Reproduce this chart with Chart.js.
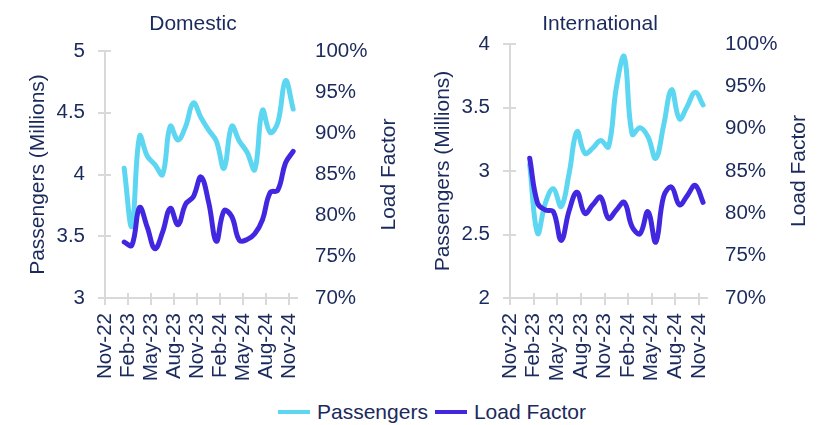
<!DOCTYPE html>
<html>
<head>
<meta charset="utf-8">
<script src="https://cdn.jsdelivr.net/npm/chart.js@4.4.1/dist/chart.umd.min.js"></script>
<style>
  body { margin: 0; background: #fff; }
  #wrap { position: relative; width: 831px; height: 425px; overflow: hidden; font-family: "Liberation Sans", Arial, sans-serif; }
  #domestic { position: absolute; left: 0; top: 0; }
  #international { position: absolute; left: 415px; top: 0; }
  #legend { position: absolute; left: 278px; top: 400px; display: flex; align-items: center; color: #1b2a5c; font-size: 21px; line-height: 24px; }
  .swatch { display: inline-block; width: 32px; height: 4px; margin-right: 7px; }
  .item { display: flex; align-items: center; margin-right: 7px; }
</style>
</head>
<body>
<div id="wrap">
  <canvas id="domestic" width="415" height="395"></canvas>
  <canvas id="international" width="416" height="395"></canvas>
  <div id="legend">
    <span class="item"><span class="swatch" style="background:#5dd6f2"></span>Passengers</span>
    <span class="item"><span class="swatch" style="background:#4127e0"></span>Load Factor</span>
  </div>
</div>
<script>
// months on the axis, Nov-22 .. Nov-24
const axisMonths = ["Nov-22", "Dec-22", "Jan-23", "Feb-23", "Mar-23", "Apr-23", "May-23", "Jun-23",
  "Jul-23", "Aug-23", "Sep-23", "Oct-23", "Nov-23", "Dec-23", "Jan-24", "Feb-24", "Mar-24",
  "Apr-24", "May-24", "Jun-24", "Jul-24", "Aug-24", "Sep-24", "Oct-24", "Nov-24"];

// monthly data points
const months = axisMonths.slice(2);

const domesticPassengers = [4.05, 3.58, 4.31, 4.15, 4.08, 4.00, 4.39, 4.28, 4.39, 4.58, 4.46, 4.36,
  4.27, 4.05, 4.39, 4.27, 4.18, 4.04, 4.52, 4.34, 4.42, 4.76, 4.53];
const domesticLoadFactor = [76.8, 76.4, 81.0, 78.6, 76.0, 78.0, 80.9, 78.9, 81.4, 82.3, 84.7, 81.6,
  76.9, 80.6, 79.9, 77.0, 77.1, 77.8, 79.5, 82.8, 83.1, 86.4, 87.8];

const intlPassengers = [3.05, 2.51, 2.75, 2.86, 2.72, 2.98, 3.31, 3.14, 3.18, 3.24, 3.19, 3.66,
  3.90, 3.29, 3.34, 3.27, 3.10, 3.36, 3.64, 3.41, 3.51, 3.62, 3.52];
const intlLoadFactor = [86.5, 81.2, 80.4, 80.2, 76.8, 80.3, 82.5, 80.0, 81.0, 81.9, 79.4, 80.4,
  81.3, 78.4, 77.6, 80.2, 76.6, 82.0, 83.1, 81.0, 82.1, 83.3, 81.3];

const TEXT = "#1b2a5c";
const CYAN = "#5dd6f2";
const PURPLE = "#4127e0";
const GREY = "#d9d9d9";
const FONT = '"Liberation Sans", Arial, sans-serif';

// crossing tick marks, panel title and the right-hand axis title
const panelDecor = {
  id: "panelDecor",
  beforeDatasetsDraw(chart) {
    const { ctx, chartArea: a, scales } = chart;
    ctx.save();
    ctx.strokeStyle = GREY;
    ctx.lineWidth = 2;
    ctx.beginPath();
    scales.x.ticks.forEach((t) => {
      const px = Math.round(scales.x.getPixelForValue(t.value));
      ctx.moveTo(px, a.bottom - 5);
      ctx.lineTo(px, a.bottom + 7);
    });
    scales.y.ticks.forEach((t) => {
      const py = Math.round(scales.y.getPixelForValue(t.value));
      ctx.moveTo(a.left - 7, py);
      ctx.lineTo(a.left + 6, py);
    });
    ctx.moveTo(a.left - 6, Math.round(a.bottom));
    ctx.lineTo(a.left, Math.round(a.bottom));
    ctx.stroke();
    ctx.restore();
  },
  afterDraw(chart, args, opts) {
    const { ctx, chartArea: a } = chart;
    ctx.save();
    ctx.fillStyle = TEXT;
    ctx.font = "21px " + FONT;
    ctx.textAlign = "center";
    ctx.textBaseline = "alphabetic";
    ctx.fillText(opts.title, opts.titleX, 29.5);
    ctx.translate(opts.rightTitleX, (a.top + a.bottom) / 2);
    ctx.rotate(-Math.PI / 2);
    ctx.fillText("Load Factor", 0, 0);
    ctx.restore();
  },
};

function makePanel(id, cfg) {
  const toPoints = (values) =>
    months.map((m, i) => ({ x: axisMonths.indexOf(m) + 0.5, y: values[i] }));

  return new Chart(document.getElementById(id), {
    type: "line",
    data: {
      datasets: [
        {
          label: "Passengers",
          data: toPoints(cfg.passengers),
          yAxisID: "y",
          borderColor: CYAN,
          order: 1,
        },
        {
          label: "Load Factor",
          data: toPoints(cfg.loadFactor),
          yAxisID: "y2",
          borderColor: PURPLE,
          order: 0,
        },
      ],
    },
    options: {
      responsive: false,
      animation: false,
      layout: { padding: { top: cfg.top, left: 0, right: 0, bottom: 0 } },
      elements: {
        point: { radius: 0 },
        line: { borderWidth: 5, tension: 0.4, borderCapStyle: "round", fill: false },
      },
      plugins: {
        legend: { display: false },
        tooltip: { enabled: false },
        panelDecor: { title: cfg.title, titleX: cfg.titleX, rightTitleX: cfg.rightTitleX },
      },
      scales: {
        x: {
          type: "linear",
          min: 0,
          max: axisMonths.length,
          grid: { display: false, drawTicks: false },
          border: { color: GREY, width: 2 },
          ticks: {
            stepSize: 3,
            includeBounds: false,
            autoSkip: false,
            maxRotation: 90,
            minRotation: 90,
            padding: 15,
            color: TEXT,
            font: { size: 20.5, family: FONT },
            callback: (v) => axisMonths[v],
          },
          afterFit: (s) => { s.height = 97; },
        },
        y: {
          position: "left",
          min: cfg.pMin,
          max: cfg.pMax,
          grid: { display: false, drawTicks: false },
          border: { color: GREY, width: 2 },
          ticks: {
            stepSize: 0.5,
            padding: 20,
            color: TEXT,
            font: { size: 20.5, family: FONT },
            callback: (v) => String(v),
          },
          title: {
            display: true,
            text: "Passengers (Millions)",
            color: TEXT,
            font: { size: 21, family: FONT },
            padding: { top: cfg.leftTitlePad, bottom: 0 },
          },
          afterFit: (s) => { s.width = cfg.leftWidth; },
        },
        y2: {
          position: "right",
          min: 70,
          max: 100,
          grid: { display: false, drawTicks: false },
          border: { display: false },
          ticks: {
            stepSize: 5,
            padding: 18,
            color: TEXT,
            font: { size: 20.5, family: FONT },
            callback: (v) => v + "%",
          },
          afterFit: (s) => { s.width = cfg.rightWidth; },
        },
      },
    },
    plugins: [panelDecor],
  });
}

makePanel("domestic", {
  title: "Domestic",
  titleX: 193,
  rightTitleX: 395,
  passengers: domesticPassengers,
  loadFactor: domesticLoadFactor,
  pMin: 3,
  pMax: 5,
  top: 51,
  leftWidth: 105,
  rightWidth: 118,
  leftTitlePad: 26,
});

makePanel("international", {
  title: "International",
  titleX: 185,
  rightTitleX: 390,
  passengers: intlPassengers,
  loadFactor: intlLoadFactor,
  pMin: 2,
  pMax: 4,
  top: 44,
  leftWidth: 95,
  rightWidth: 124,
  leftTitlePad: 16,
});
</script>
</body>
</html>
